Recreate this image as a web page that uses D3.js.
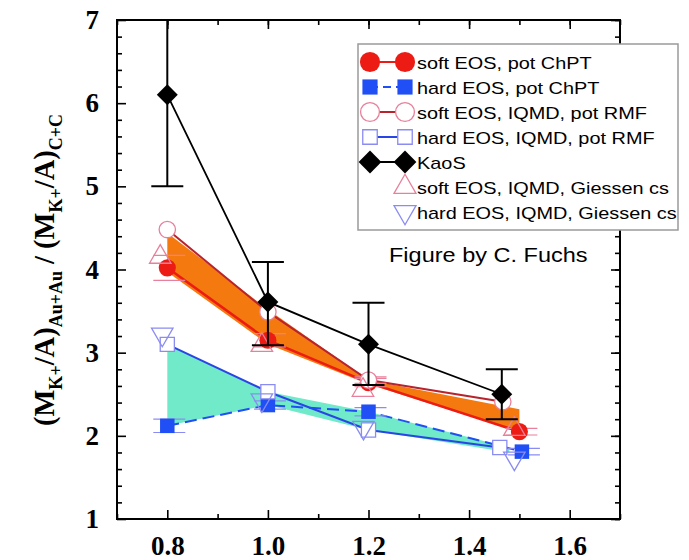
<!DOCTYPE html>
<html><head><meta charset="utf-8">
<script src="https://cdn.jsdelivr.net/npm/d3@7"></script>
<style>body{margin:0;background:#fff}</style>
</head><body>
<svg id="c" width="689" height="560"></svg>
<script>
// ---- data ----
const xTicks = [0.8, 1.0, 1.2, 1.4, 1.6];
const yTicks = [1, 2, 3, 4, 5, 6, 7];

const softChPT = [{x:0.8,y:4.02,e:0.15},{x:1.0,y:3.15,e:0.08},{x:1.2,y:2.64,e:0.05},{x:1.5,y:2.05,e:0.04}];
const hardChPT = [{x:0.8,y:2.12,e:0.08},{x:1.0,y:2.37,e:0.05},{x:1.2,y:2.29,e:0.05},{x:1.505,y:1.81,e:0.04}];
const softRMF  = [{x:0.8,y:4.48,e:0},{x:1.0,y:3.49,e:0},{x:1.2,y:2.67,e:0.04},{x:1.467,y:2.41,e:0}];
const hardRMF  = [{x:0.8,y:3.10,e:0},{x:1.0,y:2.53,e:0},{x:1.2,y:2.07,e:0},{x:1.461,y:1.86,e:0}];
const kaos     = [{x:0.8,y:6.10,lo:5.0,hi:7.3},{x:1.0,y:3.61,lo:3.09,hi:4.09},{x:1.2,y:3.10,lo:2.61,hi:3.60},{x:1.465,y:2.50,lo:2.20,hi:2.80}];
const softGiessen = [{x:0.786,y:4.15},{x:0.988,y:3.09},{x:1.189,y:2.55},{x:1.49,y:2.08}];
const hardGiessen = [{x:0.79,y:3.22},{x:0.988,y:2.43},{x:1.19,y:2.10},{x:1.49,y:1.73}];

const softBand = [{x:0.8,lo:3.97,hi:4.44},{x:1.0,lo:3.10,hi:3.52},{x:1.2,lo:2.62,hi:2.67},{x:1.5,lo:2.05,hi:2.32}];
const hardBand = [{x:0.8,lo:2.12,hi:3.10},{x:1.0,lo:2.37,hi:2.53},{x:1.2,lo:2.07,hi:2.29},{x:1.48,lo:1.80,hi:1.86}];

const legendLabels = ["soft EOS, pot ChPT","hard EOS, pot ChPT","soft EOS, IQMD, pot RMF","hard EOS, IQMD, pot RMF","KaoS","soft EOS, IQMD, Giessen cs","hard EOS, IQMD, Giessen cs"];

// ---- colours ----
const RED="#ec1c14", BLUE="#1f4ff5", PINK="#e8809c", LBLUE="#8a8cf2", DRED="#b8232e", HBLUE="#2a45e6";
const ORANGE="#f47a10", TEAL="#70eac8";

const svg = d3.select("#c");
const L=117, R=620, T=20, B=519;
const x = d3.scaleLinear().domain([0.7,1.7]).range([L,R]);
const y = d3.scaleLinear().domain([1,7]).range([B,T]);

const plot = svg.append("g");
svg.append("defs").append("clipPath").attr("id","cp").append("rect").attr("x",L).attr("y",T).attr("width",R-L).attr("height",B-T);
const g = plot.append("g").attr("clip-path","url(#cp)");

// bands
const area = d3.area().x(d=>x(d.x)).y0(d=>y(d.lo)).y1(d=>y(d.hi));
g.append("path").datum(hardBand).attr("d",area).attr("fill",TEAL);
g.append("path").datum(softBand).attr("d",area).attr("fill",ORANGE);

const line = d3.line().x(d=>x(d.x)).y(d=>y(d.y));
g.append("path").datum(hardRMF).attr("d",line).attr("fill","none").attr("stroke",HBLUE).attr("stroke-width",2);
g.append("path").datum(hardChPT).attr("d",line).attr("fill","none").attr("stroke",BLUE).attr("stroke-width",2).attr("stroke-dasharray","12,6");
g.append("path").datum(softRMF).attr("d",line).attr("fill","none").attr("stroke",DRED).attr("stroke-width",2);
g.append("path").datum(softChPT).attr("d",line).attr("fill","none").attr("stroke",RED).attr("stroke-width",2.5);

// small error caps of simulations
function caps(data, color){
  data.filter(d=>d.e>0).forEach(d=>{
    [d.y-d.e, d.y+d.e].forEach(v=>{
      g.append("line").attr("x1",x(d.x)-14).attr("x2",x(d.x)+18).attr("y1",y(v)).attr("y2",y(v)).attr("stroke",color).attr("stroke-width",1.2);
    });
  });
}
caps(softChPT, PINK); caps(hardChPT, LBLUE); caps(softRMF, PINK);

// markers
const sym = (type,size)=>d3.symbol().type(type).size(size)();
function markers(data, type, size, fill, stroke, sw, rot){
  g.selectAll(null).data(data).enter().append("path")
    .attr("d", sym(type,size))
    .attr("transform", d=>`translate(${x(d.x)},${y(d.y)})${rot?` rotate(${rot})`:""}`)
    .attr("fill", fill).attr("stroke", stroke).attr("stroke-width", sw);
}
markers(hardChPT, d3.symbolSquare, 210, BLUE, "none", 0);
markers(hardRMF, d3.symbolSquare, 200, "#fff", LBLUE, 1.3);
markers(softChPT, d3.symbolCircle, 230, RED, "none", 0);
markers(softRMF, d3.symbolCircle, 210, "#fff", PINK, 1.3);
markers(softGiessen, d3.symbolTriangle, 200, "none", PINK, 1.3);
markers(hardGiessen, d3.symbolTriangle, 200, "none", LBLUE, 1.3, 180);

// KaoS
g.append("path").datum(kaos).attr("d",line).attr("fill","none").attr("stroke","#000").attr("stroke-width",1.8);
kaos.forEach(d=>{
  g.append("line").attr("x1",x(d.x)).attr("x2",x(d.x)).attr("y1",y(d.lo)).attr("y2",y(d.hi)).attr("stroke","#000").attr("stroke-width",2);
  [d.lo,d.hi].forEach(v=>g.append("line").attr("x1",x(d.x)-16).attr("x2",x(d.x)+16).attr("y1",y(v)).attr("y2",y(v)).attr("stroke","#000").attr("stroke-width",2));
});
g.selectAll(null).data(kaos).enter().append("path")
  .attr("d", sym(d3.symbolDiamond2, 280))
  .attr("transform", d=>`translate(${x(d.x)},${y(d.y)})`)
  .attr("fill","#000");

// axes
const xMinor = d3.range(0.7,1.71,0.1).map(v=>+v.toFixed(2));
const yMinor = d3.range(1,7.01,0.2).map(v=>+v.toFixed(2));
const axG = svg.append("g");
const axBottom = d3.axisBottom(x).tickValues(xTicks).tickSize(-9).tickFormat(d3.format(".1f")).tickPadding(17);
const axBottomMinor = d3.axisBottom(x).tickValues(xMinor.filter(v=>!xTicks.some(t=>Math.abs(t-v)<1e-6))).tickSize(-5).tickFormat("");
const axLeft = d3.axisLeft(y).tickValues(yTicks).tickSize(-9).tickFormat(d3.format("d")).tickPadding(18);
const axLeftMinor = d3.axisLeft(y).tickValues(yMinor.filter(v=>!yTicks.includes(v))).tickSize(-5).tickFormat("");
const axTop = d3.axisTop(x).tickValues(xTicks).tickSize(-9).tickFormat("");
const axTopMinor = d3.axisTop(x).tickValues(xMinor).tickSize(-5).tickFormat("");
const axRight = d3.axisRight(y).tickValues(yTicks).tickSize(-9).tickFormat("");
const axRightMinor = d3.axisRight(y).tickValues(yMinor).tickSize(-5).tickFormat("");
[[axBottom,`0,${B}`],[axBottomMinor,`0,${B}`],[axLeft,`${L},0`],[axLeftMinor,`${L},0`],[axTop,`0,${T}`],[axTopMinor,`0,${T}`],[axRight,`${R},0`],[axRightMinor,`${R},0`]].forEach(([a,t])=>{
  const ax = axG.append("g").attr("transform",`translate(${t})`).call(a);
  ax.selectAll(".domain").remove();
  ax.selectAll(".tick line").attr("stroke","#000").attr("stroke-width",1.6);
  ax.selectAll("text").attr("font-family","'Liberation Serif', 'Times New Roman', serif").attr("font-weight","bold").attr("font-size",27).attr("fill","#000");
});
axG.append("rect").attr("x",L).attr("y",T).attr("width",R-L).attr("height",B-T).attr("fill","none").attr("stroke","#000").attr("stroke-width",2);

// y label
const yl = svg.append("text").attr("transform","translate(54,270) rotate(-90)").attr("text-anchor","middle")
  .attr("font-family","'Liberation Serif', 'Times New Roman', serif").attr("font-weight","bold").attr("font-size",28.5).attr("fill","#000");
const parts = [["(M",0],["K+",1],["/A)",0],["Au+Au",1],[" / (M",0],["K+",1],["/A)",0],["C+C",1]];
let prev=0;
parts.forEach(([t,s])=>{
  const sh = s ? 7.5 : 0;
  yl.append("tspan").attr("dy", sh-prev).attr("font-size", s?18:28.5).text(t);
  prev = sh;
});

// legend
const lg = svg.append("g");
lg.append("rect").attr("x",358).attr("y",44).attr("width",320).attr("height",186).attr("fill","#fff").attr("stroke","#9a9a9a").attr("stroke-width",1.5);
const ly = i=>62+i*25;
const lx1=370, lx2=405;
function legLine(i,color,dash,w){lg.append("line").attr("x1",lx1).attr("x2",lx2).attr("y1",ly(i)).attr("y2",ly(i)).attr("stroke",color).attr("stroke-width",w||2).attr("stroke-dasharray",dash||null);}
function legSym(i,type,size,fill,stroke,sw,rot,both){
  (both?[lx1,lx2]:[lx2]).forEach(px=>lg.append("path").attr("d",sym(type,size)).attr("transform",`translate(${px},${ly(i)})${rot?` rotate(${rot})`:""}`).attr("fill",fill).attr("stroke",stroke).attr("stroke-width",sw));
}
legLine(0,RED); legSym(0,d3.symbolCircle,320,RED,"none",0,0,true);
legLine(1,BLUE,"8,5"); legSym(1,d3.symbolSquare,230,BLUE,"none",0,0,true);
legLine(2,DRED); legSym(2,d3.symbolCircle,280,"#fff",PINK,1.3,0,true);
legLine(3,HBLUE); legSym(3,d3.symbolSquare,210,"#fff",LBLUE,1.3,0,true);
legLine(4,"#000"); legSym(4,d3.symbolDiamond2,330,"#000","none",0,0,true);
legSym(5,d3.symbolTriangle,210,"none",PINK,1.3,0,false);
legSym(6,d3.symbolTriangle,210,"none",LBLUE,1.3,180,false);
lg.selectAll(null).data(legendLabels).enter().append("text")
  .attr("transform",(d,i)=>`translate(417,${ly(i)+7}) scale(1.17,1)`).text(d=>d)
  .attr("font-family","'Liberation Sans', Arial, sans-serif").attr("font-size",17).attr("fill","#000");

svg.append("text").attr("transform","translate(389,262) scale(1.12,1)").text("Figure by C. Fuchs")
  .attr("font-family","'Liberation Sans', Arial, sans-serif").attr("font-size",21).attr("fill","#000");
</script>
</body></html>
